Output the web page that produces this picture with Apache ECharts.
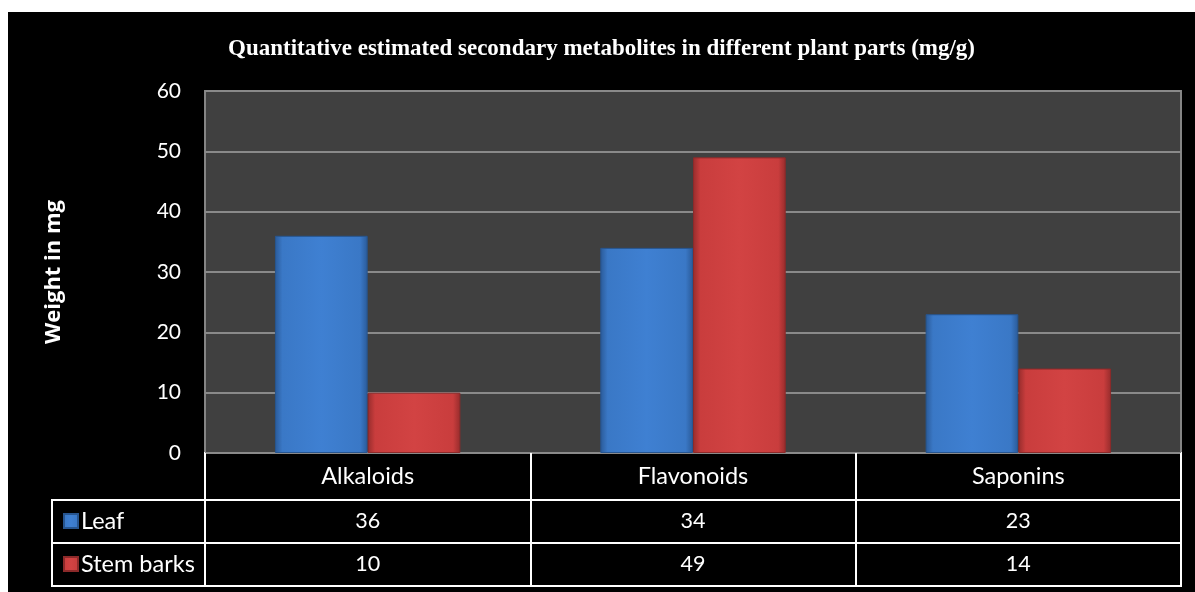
<!DOCTYPE html>
<html><head><meta charset="utf-8">
<script src="https://cdn.jsdelivr.net/npm/echarts@6/dist/echarts.min.js"></script>
<style>
html,body{margin:0;padding:0;background:#fff;width:1195px;height:592px;overflow:hidden;}
#c{position:absolute;left:8px;top:12px;width:1187px;height:580px;}
</style></head><body><div id="c"></div>
<script>
const categories = ['Alkaloids', 'Flavonoids', 'Saponins'];
const seriesNames = ['Leaf', 'Stem barks'];
const leaf = [36, 34, 23];
const stemBarks = [10, 49, 14];
const yMin = 0, yMax = 60, yStep = 10;
const titleText = 'Quantitative estimated secondary metabolites in different plant parts (mg/g)';
const yName = 'Weight in mg';

const FONT = 'Lato';
const chart = echarts.init(document.getElementById('c'));

function grad(c0, c1, c2) {
  return new echarts.graphic.LinearGradient(0, 0, 1, 0, [
    {offset: 0, color: c2}, {offset: 0.08, color: c1}, {offset: 0.5, color: c0},
    {offset: 0.92, color: c1}, {offset: 1, color: c2}
  ]);
}
const blue = grad('#3f80d2', '#3a78c6', '#2a5a98');
const red = grad('#d24343', '#c93d3d', '#962c2c');

function tableAxis(gridIndex, fmt, h, size) {
  return {
    type: 'category', gridIndex, data: categories, boundaryGap: true,
    axisLine: {show: false}, axisTick: {show: false},
    splitLine: {show: true, interval: 0, lineStyle: {color: '#fff', width: 2}},
    axisLabel: {inside: true, margin: h / 2, verticalAlign: 'middle', interval: 0,
      color: '#fff', fontSize: size, fontFamily: FONT, formatter: fmt}
  };
}
const hid = (gi) => ({type: 'value', gridIndex: gi, show: false});
const tGrid = (top, height) => ({left: 197, right: 14, top, height, show: true,
  borderColor: '#fff', borderWidth: 2, backgroundColor: '#000'});

chart.setOption({
  backgroundColor: '#000',
  animation: false,
  title: {text: titleText, left: 'center', top: 21,
    textStyle: {color: '#fff', fontSize: 23, fontWeight: 'bold', fontFamily: 'Liberation Serif'}},
  legend: {orient: 'vertical', left: 50, top: 491, itemWidth: 14, itemHeight: 14, itemGap: 17,
    icon: 'rect', data: seriesNames,
    textStyle: {color: '#fff', fontSize: 23.5, lineHeight: 26, fontFamily: FONT, padding: [0, 0, 0, -2]}},
  grid: [
    {left: 197, right: 14, top: 79, height: 362, show: true, backgroundColor: '#404040',
      borderColor: '#858585', borderWidth: 2},
    tGrid(441, 47), tGrid(488, 43), tGrid(531, 43)
  ],
  xAxis: [
    {type: 'category', gridIndex: 0, data: categories, axisLine: {show: false},
      axisTick: {show: false}, axisLabel: {show: false}},
    tableAxis(1, (v) => v, 47, 23.5),
    tableAxis(2, (v, i) => String(leaf[i]), 43, 21.5),
    tableAxis(3, (v, i) => String(stemBarks[i]), 43, 21.5)
  ],
  yAxis: [
    {type: 'value', gridIndex: 0, min: yMin, max: yMax, interval: yStep,
      name: yName, nameLocation: 'middle', nameGap: 140, nameRotate: 90,
      nameTextStyle: {color: '#fff', fontSize: 22, fontWeight: 'bold', fontFamily: 'Open Sans'},
      axisLine: {show: false}, axisTick: {show: false},
      axisLabel: {color: '#fff', fontSize: 21, fontFamily: FONT, margin: 24},
      splitLine: {lineStyle: {color: '#8a8a8a', width: 2}}},
    hid(1), hid(2), hid(3)
  ],
  series: [
    {name: seriesNames[0], type: 'bar', xAxisIndex: 0, yAxisIndex: 0, data: leaf,
      barGap: '0%', barCategoryGap: '43%',
      itemStyle: {color: blue, borderColor: '#27558f', borderWidth: 1}},
    {name: seriesNames[1], type: 'bar', xAxisIndex: 0, yAxisIndex: 0, data: stemBarks,
      barGap: '0%', barCategoryGap: '43%',
      itemStyle: {color: red, borderColor: '#8c2a2a', borderWidth: 1}}
  ],
  graphic: [
    {type: 'rect', shape: {x: 44, y: 488, width: 153, height: 86},
      style: {fill: 'none', stroke: '#fff', lineWidth: 2}},
    {type: 'line', shape: {x1: 44, y1: 531, x2: 197, y2: 531},
      style: {stroke: '#fff', lineWidth: 2}}
  ]
});
</script></body></html>
